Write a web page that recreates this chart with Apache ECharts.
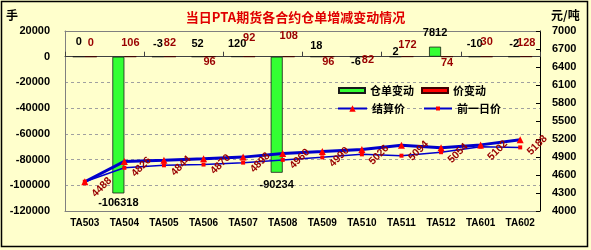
<!DOCTYPE html>
<html><head><meta charset="utf-8">
<script src="https://cdn.jsdelivr.net/npm/echarts@6/dist/echarts.min.js"></script>
<style>html,body{margin:0;padding:0;background:#fff}#c{width:591px;height:250px}</style>
</head><body><div id="c"></div>
<script>
// ---- data ----
const categories = ['TA503','TA504','TA505','TA506','TA507','TA508','TA509','TA510','TA511','TA512','TA601','TA602'];
const receiptChange = [0, -106318, -3, 52, 120, -90234, 18, -6, 2, 7812, -10, -2];
const priceChange = [0, 106, 82, 96, 92, 108, 96, 82, 172, 74, 30, 128];
const settlePrice = [4488, 4826, 4844, 4870, 4898, 4960, 4990, 5026, 5094, 5054, 5102, 5188];
const prevPrice = [4488, 4720, 4762, 4774, 4806, 4852, 4894, 4944, 4922, 4980, 5072, 5060];

// ---- label placement (style only) ----
const receiptLabelPlace = [['top',8],['bottom',4],['top',6],['top',6],['top',6],['bottom',6],['top',4],['bottom',-1],['top',-1.5],['top',8],['top',6],['top',6]];
const priceLabelPlace = [['top',7],['top',7],['top',7],['bottom',-1],['top',12],['top',14],['bottom',-1],['bottom',-3],['top',5],['bottom',0],['top',8],['top',7]];

const NUM = "'Liberation Sans', Arial, sans-serif";
const CJK = "'Noto Sans CJK SC', 'Liberation Sans', sans-serif";

function withLabels(values, places) {
  return values.map((v, i) => ({
    value: v,
    label: { position: places[i][0], distance: places[i][1] }
  }));
}
const plain = v => String(v);
const legendText = { color: '#000', fontSize: 11, fontWeight: 'bold', fontFamily: CJK, lineHeight: 13 };

const chart = echarts.init(document.getElementById('c'), null, {renderer: 'canvas'});
const option = {
  animation: false,
  backgroundColor: '#FFFFCC',
  title: {
    text: '当日PTA期货各合约仓单增减变动情况',
    left: 'center', top: 6,
    textStyle: { color: '#E00000', fontSize: 13, fontWeight: 'bold', fontFamily: CJK }
  },
  graphic: [
    { type: 'rect', silent: true, shape: { x: 1.5, y: 1.5, width: 586, height: 245 },
      style: { fill: 'none', stroke: '#000', lineWidth: 1.5 } },
    { type: 'text', left: 6, top: 9, style: { text: '手', fill: '#000', font: 'bold 12px ' + CJK } },
    { type: 'text', left: 551, top: 9, style: { text: '元/吨', fill: '#000', font: 'bold 12px ' + CJK } }
  ],
  legend: [
    { data: ['仓单变动', '价变动'], left: 338, top: 84, padding: 0, itemWidth: 26, itemHeight: 5, itemGap: 7,
      icon: 'rect', textStyle: legendText },
    { data: ['结算价'], left: 337, top: 102, padding: 0, itemWidth: 29, itemHeight: 8, textStyle: legendText },
    { data: ['前一日价'], left: 423, top: 102, padding: 0, itemWidth: 28, itemHeight: 5, textStyle: legendText }
  ],
  grid: { left: 65, right: 51, top: 31, bottom: 39, containLabel: false, outerBoundsMode: 'none' },
  xAxis: [
    { type: 'category', data: categories, position: 'bottom',
      axisLine: { onZero: false, lineStyle: { color: '#808080', width: 1 } },
      axisTick: { show: false },
      axisLabel: { interval: 0, margin: 7, color: '#000', fontSize: 10, fontWeight: 'bold', fontFamily: NUM },
      splitLine: { show: false } },
    { type: 'category', data: categories, position: 'bottom',
      axisLine: { onZero: true, onZeroAxisIndex: 0, lineStyle: { color: '#404040', width: 1 } },
      axisTick: { show: true, inside: true, length: 5, lineStyle: { color: '#404040' } },
      axisLabel: { show: false }, splitLine: { show: false } },
    { type: 'category', data: categories, position: 'top',
      axisLine: { onZero: false, lineStyle: { color: '#808080', width: 1 } },
      axisTick: { show: false }, axisLabel: { show: false }, splitLine: { show: false } }
  ],
  yAxis: [
    { type: 'value', position: 'left', min: -120000, max: 20000, interval: 20000,
      axisLine: { show: true, lineStyle: { color: '#808080' } },
      axisTick: { show: false },
      axisLabel: { margin: 15, color: '#000', fontSize: 11, fontWeight: 'bold', fontFamily: NUM, formatter: plain },
      splitLine: { show: true, lineStyle: { color: '#A0A0A0', type: [3, 3], width: 1 } } },
    { type: 'value', position: 'right', min: 4000, max: 7000, interval: 300,
      axisLine: { show: true, lineStyle: { color: '#000' } },
      axisTick: { show: true, inside: true, length: 4, lineStyle: { color: '#000' } },
      axisLabel: { margin: 12, color: '#000', fontSize: 11, fontWeight: 'bold', fontFamily: NUM, formatter: plain },
      splitLine: { show: false } }
  ],
  series: [
    { name: '仓单变动', type: 'bar', xAxisIndex: 0, yAxisIndex: 0, barWidth: 12, barGap: '0%',
      itemStyle: { color: '#33FF33', borderColor: '#1a1a1a', borderWidth: 0.8 },
      label: { show: true, color: '#000', fontSize: 11, fontWeight: 'bold', fontFamily: NUM, lineHeight: 12,
        formatter: p => plain(p.value) },
      data: withLabels(receiptChange, receiptLabelPlace) },
    { name: '价变动', type: 'bar', xAxisIndex: 0, yAxisIndex: 0, barWidth: 12, barGap: '0%',
      itemStyle: { color: '#FF0000', borderColor: '#400000', borderWidth: 0.8 },
      label: { show: true, color: '#990000', fontSize: 11, fontWeight: 'bold', fontFamily: NUM, lineHeight: 12,
        formatter: p => plain(p.value) },
      data: withLabels(priceChange, priceLabelPlace) },
    { name: '结算价', type: 'line', xAxisIndex: 0, yAxisIndex: 1,
      symbol: 'triangle', symbolSize: 7, showSymbol: true,
      itemStyle: { color: '#FF0000' },
      lineStyle: { color: '#0000CC', width: 3 },
      label: { show: true, position: [20.5, 9], rotate: 45, align: 'center', verticalAlign: 'middle',
        color: '#990000', fontSize: 10.5, fontWeight: 'bold', fontFamily: NUM, formatter: p => plain(p.value) },
      data: settlePrice },
    { name: '前一日价', type: 'line', xAxisIndex: 0, yAxisIndex: 1,
      symbol: 'rect', symbolSize: 4, showSymbol: true,
      itemStyle: { color: '#FF0000' },
      lineStyle: { color: '#0000CC', width: 1.5 },
      data: prevPrice }
  ]
};
chart.setOption(option);
</script></body></html>
